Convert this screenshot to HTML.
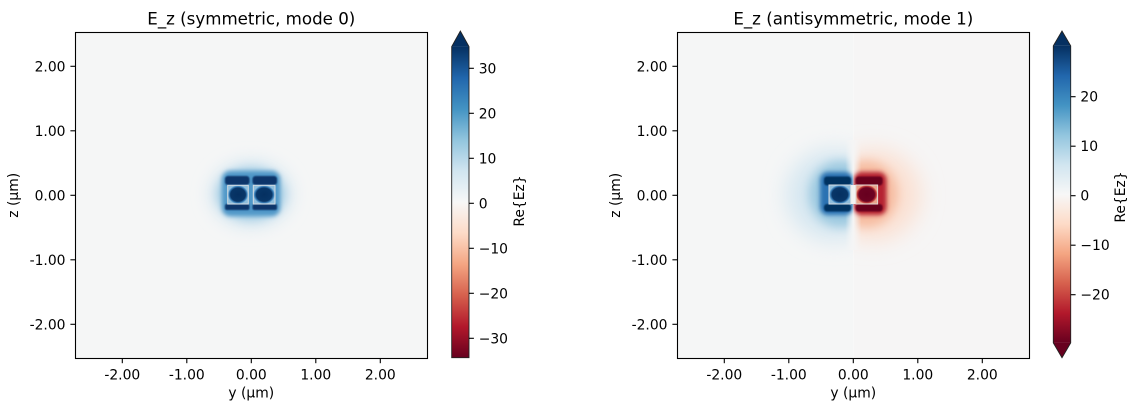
<!DOCTYPE html>
<html><head><meta charset="utf-8"><style>
html,body{margin:0;padding:0;background:#fff;}
svg{display:block;}
text{font-family:"DejaVu Sans","Liberation Sans",sans-serif;fill:#000;}
.t{font-size:13.89px;}
.ti{font-size:16.67px;}
</style></head><body>
<svg width="1138" height="411" viewBox="0 0 1138 411" xmlns="http://www.w3.org/2000/svg">
<defs>
<linearGradient id="rdbu" x1="0" y1="1" x2="0" y2="0">
<stop offset="0" stop-color="#67001f"/>
<stop offset="0.1" stop-color="#b2182b"/>
<stop offset="0.2" stop-color="#d6604d"/>
<stop offset="0.3" stop-color="#f4a582"/>
<stop offset="0.4" stop-color="#fddbc7"/>
<stop offset="0.5" stop-color="#f7f7f7"/>
<stop offset="0.6" stop-color="#d1e5f0"/>
<stop offset="0.7" stop-color="#92c5de"/>
<stop offset="0.8" stop-color="#4393c3"/>
<stop offset="0.9" stop-color="#2166ac"/>
<stop offset="1" stop-color="#053061"/>
</linearGradient>
<radialGradient id="boxB" cx="0.5" cy="0.5" r="0.5">
<stop offset="0" stop-color="#053061"/>
<stop offset="0.72" stop-color="#083668"/>
<stop offset="0.88" stop-color="#3a80bb"/>
<stop offset="1" stop-color="#8fbedc"/>
</radialGradient>
<radialGradient id="boxR" cx="0.5" cy="0.5" r="0.5">
<stop offset="0" stop-color="#67001f"/>
<stop offset="0.72" stop-color="#6d0322"/>
<stop offset="0.88" stop-color="#bf3a3a"/>
<stop offset="1" stop-color="#e9a48c"/>
</radialGradient>
<linearGradient id="mid" x1="0" y1="0" x2="1" y2="0">
<stop offset="0" stop-color="#f5f5f5" stop-opacity="0"/>
<stop offset="0.5" stop-color="#f5f5f5" stop-opacity="1"/>
<stop offset="1" stop-color="#f5f5f5" stop-opacity="0"/>
</linearGradient>
<filter id="b10" x="-80%" y="-80%" width="260%" height="260%"><feGaussianBlur stdDeviation="11"/></filter>
<filter id="b8" x="-80%" y="-80%" width="260%" height="260%"><feGaussianBlur stdDeviation="8"/></filter>
<filter id="b5" x="-60%" y="-60%" width="220%" height="220%"><feGaussianBlur stdDeviation="5"/></filter>
<filter id="b2" x="-40%" y="-40%" width="180%" height="180%"><feGaussianBlur stdDeviation="2"/></filter>
<filter id="b1" x="-40%" y="-40%" width="180%" height="180%"><feGaussianBlur stdDeviation="0.8"/></filter>
<clipPath id="axL"><rect x="75.3" y="32.3" width="352" height="326"/></clipPath>
<clipPath id="rL"><rect x="677.3" y="32.3" width="176" height="326"/></clipPath>
<clipPath id="rR"><rect x="853.3" y="32.3" width="176" height="326"/></clipPath>
</defs>

<!-- Left plot -->
<g clip-path="url(#axL)">
<rect x="75.3" y="32.3" width="352" height="326" fill="#f5f6f6"/>
<ellipse cx="251" cy="194" rx="42" ry="34" fill="#d8e8f2" filter="url(#b8)"/>
<ellipse cx="251" cy="194" rx="34" ry="26" fill="#a3cce3" filter="url(#b5)"/>
<rect x="222" y="171" width="58" height="45" rx="8" fill="#4f97c8" filter="url(#b2)"/>
<rect x="225" y="176" width="24.5" height="9" rx="3" fill="#08356a" filter="url(#b1)"/>
<rect x="252.5" y="176" width="24.5" height="9" rx="3" fill="#08356a" filter="url(#b1)"/>
<rect x="225" y="204" width="24.5" height="6" rx="2" fill="#08356a" filter="url(#b1)"/>
<rect x="252.5" y="204" width="24.5" height="6" rx="2" fill="#08356a" filter="url(#b1)"/>
<rect x="227.7" y="185.3" width="20.6" height="18.7" fill="url(#boxB)" stroke="#d3dbe2" stroke-width="1"/>
<rect x="253.3" y="185.3" width="21.7" height="18.7" fill="url(#boxB)" stroke="#d3dbe2" stroke-width="1"/>
</g>
<rect x="75.5" y="32.5" width="352" height="326" fill="none" stroke="#000" stroke-width="1.1"/>

<!-- Right plot -->
<g clip-path="url(#rL)">
<rect x="677.3" y="32.3" width="176" height="326" fill="#f5f6f6"/>
<ellipse cx="834" cy="195" rx="48" ry="46" fill="#d6e7f1" filter="url(#b10)"/>
<ellipse cx="840" cy="194" rx="31" ry="33" fill="#9cc9e0" filter="url(#b5)"/>
</g>
<g clip-path="url(#rR)">
<rect x="853.3" y="32.3" width="176" height="326" fill="#f6f5f5"/>
<ellipse cx="872.6" cy="195" rx="48" ry="46" fill="#fbe0d2" filter="url(#b10)"/>
<ellipse cx="866.6" cy="194" rx="31" ry="33" fill="#f6bca0" filter="url(#b5)"/>
</g>
<rect x="845.3" y="140" width="16" height="110" fill="url(#mid)"/>
<g clip-path="url(#rL)">
<rect x="820" y="172" width="33" height="43" rx="8" fill="#2a72b2" filter="url(#b2)"/>
<rect x="824" y="176.5" width="27" height="9" rx="3" fill="#053061" filter="url(#b1)"/>
<rect x="824" y="204" width="27" height="7.5" rx="3" fill="#053061" filter="url(#b1)"/>
</g>
<g clip-path="url(#rR)">
<rect x="853.6" y="172" width="33" height="43" rx="8" fill="#b52330" filter="url(#b2)"/>
<rect x="855.6" y="176.5" width="27" height="9" rx="3" fill="#67001f" filter="url(#b1)"/>
<rect x="855.6" y="204" width="27" height="7.5" rx="3" fill="#67001f" filter="url(#b1)"/>
</g>
<rect x="850.7" y="185" width="5" height="19" fill="#f2f2f2"/>
<rect x="829" y="185" width="21.7" height="19" fill="url(#boxB)" stroke="#d3dbe2" stroke-width="1"/>
<rect x="855.9" y="185" width="21.7" height="19" fill="url(#boxR)" stroke="#e2d6d2" stroke-width="1"/>
<rect x="677.5" y="32.5" width="352" height="326" fill="none" stroke="#000" stroke-width="1.1"/>

<!-- ticks -->
<g stroke="#000" stroke-width="1.1">
<line x1="70.4" y1="66.3" x2="75.3" y2="66.3"/>
<line x1="70.4" y1="130.8" x2="75.3" y2="130.8"/>
<line x1="70.4" y1="195.3" x2="75.3" y2="195.3"/>
<line x1="70.4" y1="259.8" x2="75.3" y2="259.8"/>
<line x1="70.4" y1="324.3" x2="75.3" y2="324.3"/>
<line x1="122.3" y1="358.3" x2="122.3" y2="363.2"/>
<line x1="186.8" y1="358.3" x2="186.8" y2="363.2"/>
<line x1="251.3" y1="358.3" x2="251.3" y2="363.2"/>
<line x1="315.8" y1="358.3" x2="315.8" y2="363.2"/>
<line x1="380.3" y1="358.3" x2="380.3" y2="363.2"/>
<line x1="672.4" y1="66.3" x2="677.3" y2="66.3"/>
<line x1="672.4" y1="130.8" x2="677.3" y2="130.8"/>
<line x1="672.4" y1="195.3" x2="677.3" y2="195.3"/>
<line x1="672.4" y1="259.8" x2="677.3" y2="259.8"/>
<line x1="672.4" y1="324.3" x2="677.3" y2="324.3"/>
<line x1="724.3" y1="358.3" x2="724.3" y2="363.2"/>
<line x1="788.8" y1="358.3" x2="788.8" y2="363.2"/>
<line x1="853.3" y1="358.3" x2="853.3" y2="363.2"/>
<line x1="917.8" y1="358.3" x2="917.8" y2="363.2"/>
<line x1="982.3" y1="358.3" x2="982.3" y2="363.2"/>
</g>

<g class="t" text-anchor="end">
<text x="65.5" y="71.3">2.00</text>
<text x="65.5" y="135.8">1.00</text>
<text x="65.5" y="200.3">0.00</text>
<text x="65.5" y="264.8">-1.00</text>
<text x="65.5" y="329.3">-2.00</text>
<text x="667.5" y="71.3">2.00</text>
<text x="667.5" y="135.8">1.00</text>
<text x="667.5" y="200.3">0.00</text>
<text x="667.5" y="264.8">-1.00</text>
<text x="667.5" y="329.3">-2.00</text>
</g>
<g class="t" text-anchor="middle">
<text x="122.3" y="379.5">-2.00</text>
<text x="186.8" y="379.5">-1.00</text>
<text x="251.3" y="379.5">0.00</text>
<text x="315.8" y="379.5">1.00</text>
<text x="380.3" y="379.5">2.00</text>
<text x="724.3" y="379.5">-2.00</text>
<text x="788.8" y="379.5">-1.00</text>
<text x="853.3" y="379.5">0.00</text>
<text x="917.8" y="379.5">1.00</text>
<text x="982.3" y="379.5">2.00</text>
<text x="251.3" y="397.5">y (µm)</text>
<text x="853.3" y="397.5">y (µm)</text>
</g>
<text class="t" text-anchor="middle" transform="translate(18.2,195.3) rotate(-90)">z (µm)</text>
<text class="t" text-anchor="middle" transform="translate(620.2,195.3) rotate(-90)">z (µm)</text>

<text class="ti" x="251.3" y="24.5" text-anchor="middle">E_z (symmetric, mode 0)</text>
<text class="ti" x="853.3" y="24.5" text-anchor="middle">E_z (antisymmetric, mode 1)</text>

<!-- Colorbar 1 -->
<rect x="451.7" y="46.6" width="17.3" height="311.1" fill="url(#rdbu)"/>
<polygon points="451.7,46.6 469,46.6 460.35,31" fill="#053061"/>
<polygon points="451.7,357.7 451.7,46.6 460.35,31 469,46.6 469,357.7" fill="none" stroke="#222" stroke-width="0.9"/>
<g stroke="#000" stroke-width="1.1">
<line x1="469" y1="68.3" x2="473.9" y2="68.3"/>
<line x1="469" y1="113.3" x2="473.9" y2="113.3"/>
<line x1="469" y1="158.3" x2="473.9" y2="158.3"/>
<line x1="469" y1="203.3" x2="473.9" y2="203.3"/>
<line x1="469" y1="248.3" x2="473.9" y2="248.3"/>
<line x1="469" y1="293.3" x2="473.9" y2="293.3"/>
<line x1="469" y1="338.3" x2="473.9" y2="338.3"/>
</g>
<g class="t">
<text x="478.7" y="73.3">30</text>
<text x="478.7" y="118.3">20</text>
<text x="478.7" y="163.3">10</text>
<text x="478.7" y="208.3">0</text>
<text x="478.7" y="253.3">−10</text>
<text x="478.7" y="298.3">−20</text>
<text x="478.7" y="343.3">−30</text>
</g>
<text class="t" text-anchor="middle" transform="translate(523.8,201) rotate(-90)">Re{Ez}</text>

<!-- Colorbar 2 -->
<rect x="1053.3" y="45.9" width="17.4" height="297" fill="url(#rdbu)"/>
<polygon points="1053.3,45.9 1070.7,45.9 1062,31" fill="#053061"/>
<polygon points="1053.3,342.9 1070.7,342.9 1062,357.7" fill="#67001f"/>
<polygon points="1053.3,342.9 1053.3,45.9 1062,31 1070.7,45.9 1070.7,342.9 1062,357.7" fill="none" stroke="#222" stroke-width="0.9"/>
<g stroke="#000" stroke-width="1.1">
<line x1="1070.7" y1="96.7" x2="1075.6" y2="96.7"/>
<line x1="1070.7" y1="146.2" x2="1075.6" y2="146.2"/>
<line x1="1070.7" y1="195.7" x2="1075.6" y2="195.7"/>
<line x1="1070.7" y1="245.2" x2="1075.6" y2="245.2"/>
<line x1="1070.7" y1="294.7" x2="1075.6" y2="294.7"/>
</g>
<g class="t">
<text x="1080.4" y="101.7">20</text>
<text x="1080.4" y="151.2">10</text>
<text x="1080.4" y="200.7">0</text>
<text x="1080.4" y="250.2">−10</text>
<text x="1080.4" y="299.7">−20</text>
</g>
<text class="t" text-anchor="middle" transform="translate(1125,197) rotate(-90)">Re{Ez}</text>
</svg>
</body></html>
